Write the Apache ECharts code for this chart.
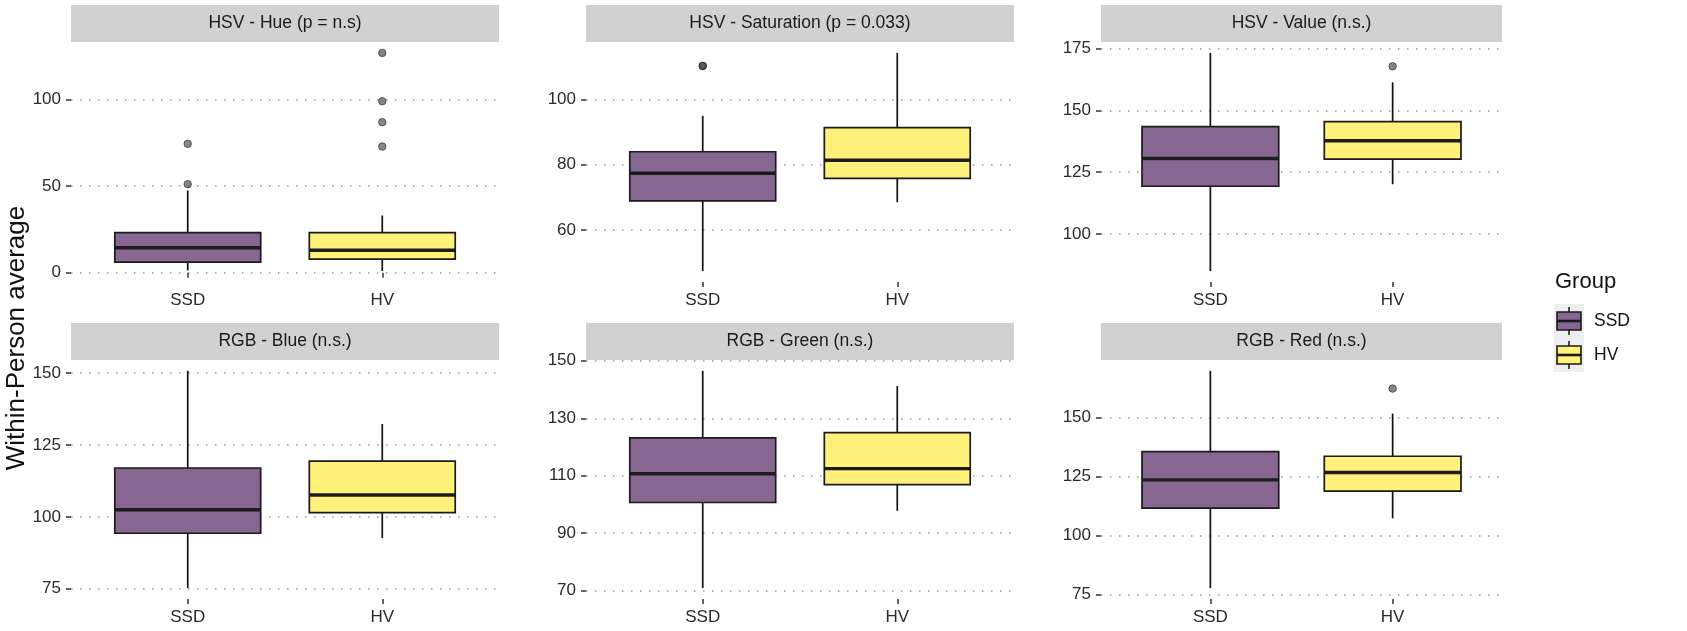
<!DOCTYPE html>
<html><head><meta charset="utf-8">
<script src="https://cdn.jsdelivr.net/npm/echarts@6/dist/echarts.min.js"></script>
<style>html,body{margin:0;padding:0;background:#fff}#c{width:1687px;height:631px}</style>
</head><body><div id="c"></div>
<script>
// ---------- data ----------
const groups = ['SSD', 'HV'];
const panelTitles = ['HSV - Hue (p = n.s)', 'HSV - Saturation (p = 0.033)', 'HSV - Value (n.s.)',
                     'RGB - Blue (n.s.)', 'RGB - Green (n.s.)', 'RGB - Red (n.s.)'];
// [lower whisker, Q1, median, Q3, upper whisker]
const ssdBoxes = [
  [1.3, 6.1, 14.4, 23.1, 47.5],
  [47.4, 68.9, 77.4, 84.0, 95.0],
  [85.0, 119.3, 130.5, 143.4, 173.2],
  [75.2, 94.3, 102.5, 117.0, 150.8],
  [70.9, 100.7, 110.7, 123.2, 146.5],
  [77.7, 111.6, 123.6, 135.6, 169.8]
];
const hvBoxes = [
  [0.9, 7.8, 12.9, 23.1, 33.0],
  [68.5, 75.8, 81.4, 91.4, 114.3],
  [120.1, 130.3, 137.7, 145.4, 161.3],
  [92.6, 101.5, 107.6, 119.4, 132.3],
  [97.8, 106.9, 112.5, 125.0, 141.2],
  [107.3, 118.8, 126.7, 133.6, 151.7]
];
const ssdOutliers = [[51.1, 74.4], [110.3, 110.3], [], [], [], []];
const hvOutliers  = [[72.8, 86.9, 99.0, 126.9], [], [167.8], [], [], [162.3]];
const yTicks = [[0, 50, 100], [60, 80, 100], [100, 125, 150, 175],
                [75, 100, 125, 150], [70, 90, 110, 130, 150], [75, 100, 125, 150]];
const yTitle = 'Within-Person average';
const legendTitle = 'Group';

// ---------- style / layout ----------
const fills = ['#876791', '#fff17a'];
const FONT = '"Liberation Sans", Arial, sans-serif';
const cols = [[71, 428], [586, 428], [1101, 401]];
const rows = [[42, 240], [360, 239]];
const stripH = 37;
const LX = 1555; // legend left

const chart = echarts.init(document.getElementById('c'), null, {renderer: 'canvas'});

function renderBox(params, api) {
  const x = api.value(0), lo = api.value(1), q1 = api.value(2), md = api.value(3),
        q3 = api.value(4), hi = api.value(5), g = api.value(6);
  const h = 0.375;
  const tl = api.coord([x - h, q3]), br = api.coord([x + h, q1]);
  const cLo = api.coord([x, lo]), cQ1 = api.coord([x, q1]), cQ3 = api.coord([x, q3]), cHi = api.coord([x, hi]);
  const mL = api.coord([x - h, md]), mR = api.coord([x + h, md]);
  return {type: 'group', children: [
    {type: 'line', shape: {x1: cLo[0], y1: cLo[1], x2: cQ1[0], y2: cQ1[1]}, style: {stroke: '#111', lineWidth: 1.7}},
    {type: 'line', shape: {x1: cQ3[0], y1: cQ3[1], x2: cHi[0], y2: cHi[1]}, style: {stroke: '#111', lineWidth: 1.7}},
    {type: 'rect', shape: {x: tl[0], y: tl[1], width: br[0] - tl[0], height: br[1] - tl[1]},
      style: {fill: fills[g], stroke: '#1a1a1a', lineWidth: 1.7}},
    {type: 'line', shape: {x1: mL[0], y1: mL[1], x2: mR[0], y2: mR[1]}, style: {stroke: '#1c1c1c', lineWidth: 3.4}}
  ]};
}

const grid = [], xAxis = [], yAxis = [], series = [], graphic = [];
for (let i = 0; i < 6; i++) {
  const c = cols[i % 3], r = rows[Math.floor(i / 3)];
  grid.push({left: c[0], top: r[0], width: c[1], height: r[1]});
  const vals = ssdBoxes[i].concat(hvBoxes[i], ssdOutliers[i], hvOutliers[i]);
  const lo = Math.min.apply(null, vals), hi = Math.max.apply(null, vals);
  const pad = (hi - lo) * 0.05;
  xAxis.push({
    type: 'value', gridIndex: i, min: 0.4, max: 2.6,
    axisLine: {show: false}, splitLine: {show: false},
    axisTick: {show: true, customValues: [1, 2], length: 5, lineStyle: {color: '#333', width: 1.5}},
    axisLabel: {customValues: [1, 2], formatter: v => groups[Math.round(v) - 1],
      fontSize: 17, color: '#2a2a2a', margin: 10, fontFamily: FONT}
  });
  yAxis.push({
    type: 'value', gridIndex: i, min: lo - pad, max: hi + pad,
    axisLine: {show: false},
    axisTick: {show: true, customValues: yTicks[i], length: 5, lineStyle: {color: '#333', width: 1.5}},
    axisLabel: {customValues: yTicks[i], fontSize: 17, color: '#2a2a2a', margin: 10, fontFamily: FONT},
    splitLine: {show: true, lineStyle: {color: '#9a9a9a', width: 1.5, type: [1.5, 7.5]}}
  });
  series.push({
    type: 'custom', xAxisIndex: i, yAxisIndex: i, renderItem: renderBox,
    encode: {x: 0, y: [1, 2, 3, 4, 5]}, z: 2,
    data: [[1].concat(ssdBoxes[i], [0]), [2].concat(hvBoxes[i], [1])]
  });
  const pts = ssdOutliers[i].map(v => [1, v]).concat(hvOutliers[i].map(v => [2, v]));
  series.push({
    type: 'scatter', xAxisIndex: i, yAxisIndex: i, data: pts, symbolSize: 7.5, z: 3,
    itemStyle: {color: 'rgba(60,60,60,0.62)', borderColor: 'rgba(20,20,20,0.55)', borderWidth: 1, opacity: 1}
  });
  // facet strip
  graphic.push({type: 'rect', shape: {x: c[0], y: r[0] - stripH, width: c[1], height: stripH},
    style: {fill: '#d1d1d1'}, silent: true});
  graphic.push({type: 'text', x: c[0] + c[1] / 2, y: r[0] - stripH / 2,
    style: {text: panelTitles[i], fontSize: 17.5, fill: '#1a1a1a', fontFamily: FONT,
      align: 'center', verticalAlign: 'middle'}, silent: true});
}

// y-axis title
graphic.push({type: 'text', x: 17, y: 338, rotation: Math.PI / 2,
  style: {text: yTitle, fontSize: 26, fill: '#111', fontFamily: FONT, align: 'center', verticalAlign: 'middle'}});

// legend
graphic.push({type: 'text', x: LX, y: 282,
  style: {text: legendTitle, fontSize: 22, fill: '#111', fontFamily: FONT, align: 'left', verticalAlign: 'middle'}});
graphic.push({type: 'rect', shape: {x: LX - 1, y: 304, width: 30, height: 68}, style: {fill: '#efefef'}});
const keyY = [321, 355];
groups.forEach((g, k) => {
  const cy = keyY[k];
  graphic.push({type: 'line', shape: {x1: LX + 14, y1: cy - 14, x2: LX + 14, y2: cy + 14}, style: {stroke: '#111', lineWidth: 1.5}});
  graphic.push({type: 'rect', shape: {x: LX + 2, y: cy - 9, width: 24, height: 18},
    style: {fill: fills[k], stroke: '#1a1a1a', lineWidth: 1.6}});
  graphic.push({type: 'line', shape: {x1: LX + 2, y1: cy, x2: LX + 26, y2: cy}, style: {stroke: '#1a1a1a', lineWidth: 2.6}});
  graphic.push({type: 'text', x: LX + 39, y: cy,
    style: {text: g, fontSize: 17.5, fill: '#111', fontFamily: FONT, align: 'left', verticalAlign: 'middle'}});
});

chart.setOption({
  animation: false,
  backgroundColor: '#ffffff',
  grid: grid, xAxis: xAxis, yAxis: yAxis, series: series, graphic: graphic
});
</script></body></html>
